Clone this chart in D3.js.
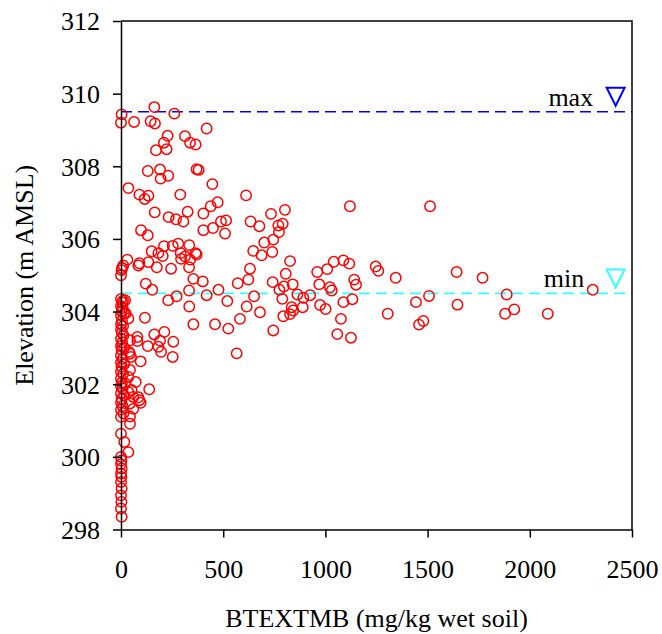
<!DOCTYPE html>
<html>
<head>
<meta charset="utf-8">
<script src="https://cdn.jsdelivr.net/npm/d3@7"></script>
<style>
  body { margin: 0; background: #fff; }
  text { font-family: "Liberation Serif", "Times New Roman", serif; }
</style>
</head>
<body>
<figure id="scatter" style="margin:0"></figure>
<script>
// BTEXTMB concentration (mg/kg wet soil), paired with elevation below
const btex = [
  3, 0, 64, 163, 261, 145, 166, 419, 228, 313, 210, 338, 365, 223, 171, 370, 380, 131, 191, 194,
  231, 447, 36, 90, 116, 134, 290, 612, 473, 439, 165, 326, 403, 734, 802, 233, 269, 305, 403, 450,
  489, 514, 509, 634, 677, 770, 791, 773, 745, 701, 98, 131, 1120, 1512,
  210, 253, 280, 334, 150, 183, 204, 292, 313, 365, 370, 338, 294, 31, 90, 85, 134, 175, 245, 333,
  11, 3, 0, 5, 647, 688, 740, 827, 631, 806, 960, 1009, 1041, 1088, 1117, 1246, 1259, 1344, 1141, 1150,
  1642, 1769, 354, 400, 121, 153, 333, 477, 571, 623, 742, 775, 797, 840, 863, 925, 970, 1022, 1031,
  231, 272, 419, 520, 651, 789, 892, 334, 615, 680, 835, 842, 794, 827, 889, 974, 1001, 1132, 1088,
  1076, 1058, 1125, 1305, 1443, 1507, 1646, 1458, 1479, 1887, 1879, 1924, 2088, 2308,
  117, 354, 460, 525, 582, 745, 163, 212, 256, 253, 566, 191, 183, 196, 131, 80, 80, 96, 44, 72,
  138, 85, 96, 90, 60, 36, 44, 44, 0, 16, 36,
  0, 2, 0, 3, 0, 2, 0, 3, 0, 2, 0, 3,
  0, 5, 10, 20, 0, 8, 3, 15, 0, 23, 36, 5, 0, 10, 0, 5, 12, 0, 44, 6,
  0, 15, 3, 39, 0, 49, 8, 0, 15, 3, 44, 0, 10, 36, 0, 5, 20, 0, 8, 52,
  0, 15, 60, 3, 0, 44, 8, 0, 12, 0
];

// elevation (m AMSL)
const elevation = [
  309.43, 309.2, 309.22, 309.63, 309.45, 309.24, 309.18, 309.04, 308.84, 308.83, 308.65, 308.65, 308.6, 308.47, 308.44, 307.92, 307.9, 307.87, 307.91, 307.66,
  307.74, 307.51, 307.4, 307.22, 307.1, 307.19, 307.22, 307.2, 307.01, 306.9, 306.73, 306.75, 306.7, 306.69, 306.8, 306.6, 306.54, 306.48, 306.24, 306.3,
  306.48, 306.51, 306.15, 306.48, 306.35, 306.37, 306.42, 306.19, 305.98, 305.9, 306.24, 306.1, 306.9, 306.9,
  305.8, 305.81, 305.87, 305.83, 305.66, 305.61, 305.53, 305.61, 305.52, 305.61, 305.57, 305.43, 305.45, 305.43, 305.33, 305.27, 305.36, 305.22, 305.18, 305.22,
  305.27, 305.14, 305.0, 305.2, 305.67, 305.55, 305.64, 305.39, 305.18, 305.04, 305.09, 305.17, 305.37, 305.41, 305.32, 305.24, 305.12, 304.93, 304.88, 304.74,
  305.09, 304.93, 304.9, 304.83, 304.77, 304.6, 304.58, 304.6, 304.78, 304.88, 304.81, 304.6, 304.69, 304.75, 304.47, 304.45, 304.75, 304.67, 304.58,
  304.31, 304.42, 304.45, 304.29, 304.42, 304.35, 304.38, 304.14, 304.14, 303.98, 304.12, 304.03, 303.87, 303.93, 304.12, 304.18, 304.07, 304.34, 304.26,
  303.8, 303.38, 303.28, 303.94, 304.26, 304.43, 304.19, 303.64, 303.74, 304.47, 303.94, 304.06, 303.94, 304.6,
  303.83, 303.65, 303.65, 303.53, 303.8, 303.48, 303.37, 303.44, 303.17, 302.75, 302.85, 303.2, 303.03, 302.89, 303.05, 303.3, 303.19, 302.63, 302.84, 302.06,
  301.86, 301.64, 301.49, 301.56, 301.32, 301.78, 301.11, 300.91, 300.64, 300.41, 300.13,
  300.0, 299.9, 299.8, 299.68, 299.54, 299.45, 299.31, 299.13, 298.94, 298.76, 298.58, 298.35,
  304.35, 304.25, 304.3, 304.31, 304.15, 304.1, 304.0, 303.95, 303.9, 303.95, 303.81, 303.75, 303.65, 303.6, 303.5, 303.42, 303.35, 303.25, 303.21, 303.15,
  303.05, 303.0, 302.95, 302.89, 302.8, 302.75, 302.7, 302.6, 302.55, 302.48, 302.39, 302.35, 302.28, 302.2, 302.15, 302.05, 302.02, 301.95, 301.88, 301.84,
  301.75, 301.7, 301.65, 301.6, 301.5, 301.47, 301.4, 301.3, 301.2, 301.1
];

const xTicks = [0, 500, 1000, 1500, 2000, 2500];
const yTicks = [298, 300, 302, 304, 306, 308, 310, 312];

// reference levels drawn as dashed lines
const refLabels = ["max", "min"];
const refLevels = [309.5, 304.5];
const refColors = ["#0000ff", "#33ffff"];

const width = 662;
const height = 634;
const margin = { top: 21, right: 30, bottom: 104.5, left: 121 };
const innerW = width - margin.left - margin.right;
const innerH = height - margin.top - margin.bottom;

const svg = d3.select("figure#scatter")
  .append("svg")
  .attr("width", width)
  .attr("height", height)
  .append("g")
  .attr("transform", "translate(" + margin.left + "," + margin.top + ")");

const x = d3.scaleLinear().domain([0, 2500]).range([0, innerW]);
const y = d3.scaleLinear().domain([298, 312]).range([innerH, 0]);

// reference lines
refLevels.forEach((lv, i) => {
  svg.append("line")
    .attr("x1", 0).attr("x2", innerW)
    .attr("y1", y(lv)).attr("y2", y(lv))
    .attr("stroke", refColors[i])
    .attr("stroke-width", 1.6)
    .attr("stroke-dasharray", "11,6");
});

// points
svg.selectAll("circle.pt")
  .data(d3.range(btex.length))
  .enter()
  .append("circle")
  .attr("class", "pt")
  .attr("cx", i => x(btex[i]))
  .attr("cy", i => y(elevation[i]))
  .attr("r", 5.2)
  .attr("fill", "none")
  .attr("stroke", "#ff0000")
  .attr("stroke-width", 1.5);

// frame (top and right)
svg.append("path")
  .attr("d", "M0,0H" + innerW + "V" + innerH)
  .attr("fill", "none")
  .attr("stroke", "#000")
  .attr("stroke-width", 1.5);

// x axis
const gx = svg.append("g")
  .attr("transform", "translate(0," + innerH + ")")
  .call(d3.axisBottom(x).tickValues(xTicks).tickFormat(d3.format("d")).tickSize(8).tickSizeOuter(0));
gx.select(".domain").attr("stroke-width", 1.5);
gx.selectAll(".tick line").attr("stroke-width", 1.5);
gx.selectAll("text")
  .attr("y", 48)
  .attr("dy", 0)
  .style("font-size", "26px")
  .style("font-family", "Liberation Serif")
  .attr("fill", "#000");

// y axis
const gy = svg.append("g")
  .call(d3.axisLeft(y).tickValues(yTicks).tickFormat(d3.format("d")).tickSize(8).tickPadding(13).tickSizeOuter(0));
gy.select(".domain").attr("stroke-width", 1.5);
gy.selectAll(".tick line").attr("stroke-width", 1.5);
gy.selectAll("text")
  .attr("dy", "0.34em")
  .style("font-size", "26px")
  .style("font-family", "Liberation Serif")
  .attr("fill", "#000");

// reference labels and triangle markers
const labelEnd = [2310, 2266];
refLevels.forEach((lv, i) => {
  svg.append("text")
    .attr("x", x(labelEnd[i]))
    .attr("y", y(lv) - 6)
    .attr("text-anchor", "end")
    .style("font-size", "26px")
    .text(refLabels[i]);
  const cx = x(2420), by = y(lv) - 6;
  svg.append("path")
    .attr("d", "M" + (cx - 9) + "," + (by - 18) + "H" + (cx + 9) + "L" + cx + "," + by + "Z")
    .attr("fill", "none")
    .attr("stroke", refColors[i])
    .attr("stroke-width", 2);
});

// axis titles
svg.append("text")
  .attr("x", innerW / 2)
  .attr("y", innerH + 97)
  .attr("text-anchor", "middle")
  .style("font-size", "26px")
  .text("BTEXTMB (mg/kg wet soil)");

svg.append("text")
  .attr("transform", "translate(" + (-88) + "," + (innerH / 2) + ")rotate(-90)")
  .attr("text-anchor", "middle")
  .style("font-size", "26px")
  .text("Elevation (m AMSL)");
</script>
</body>
</html>
